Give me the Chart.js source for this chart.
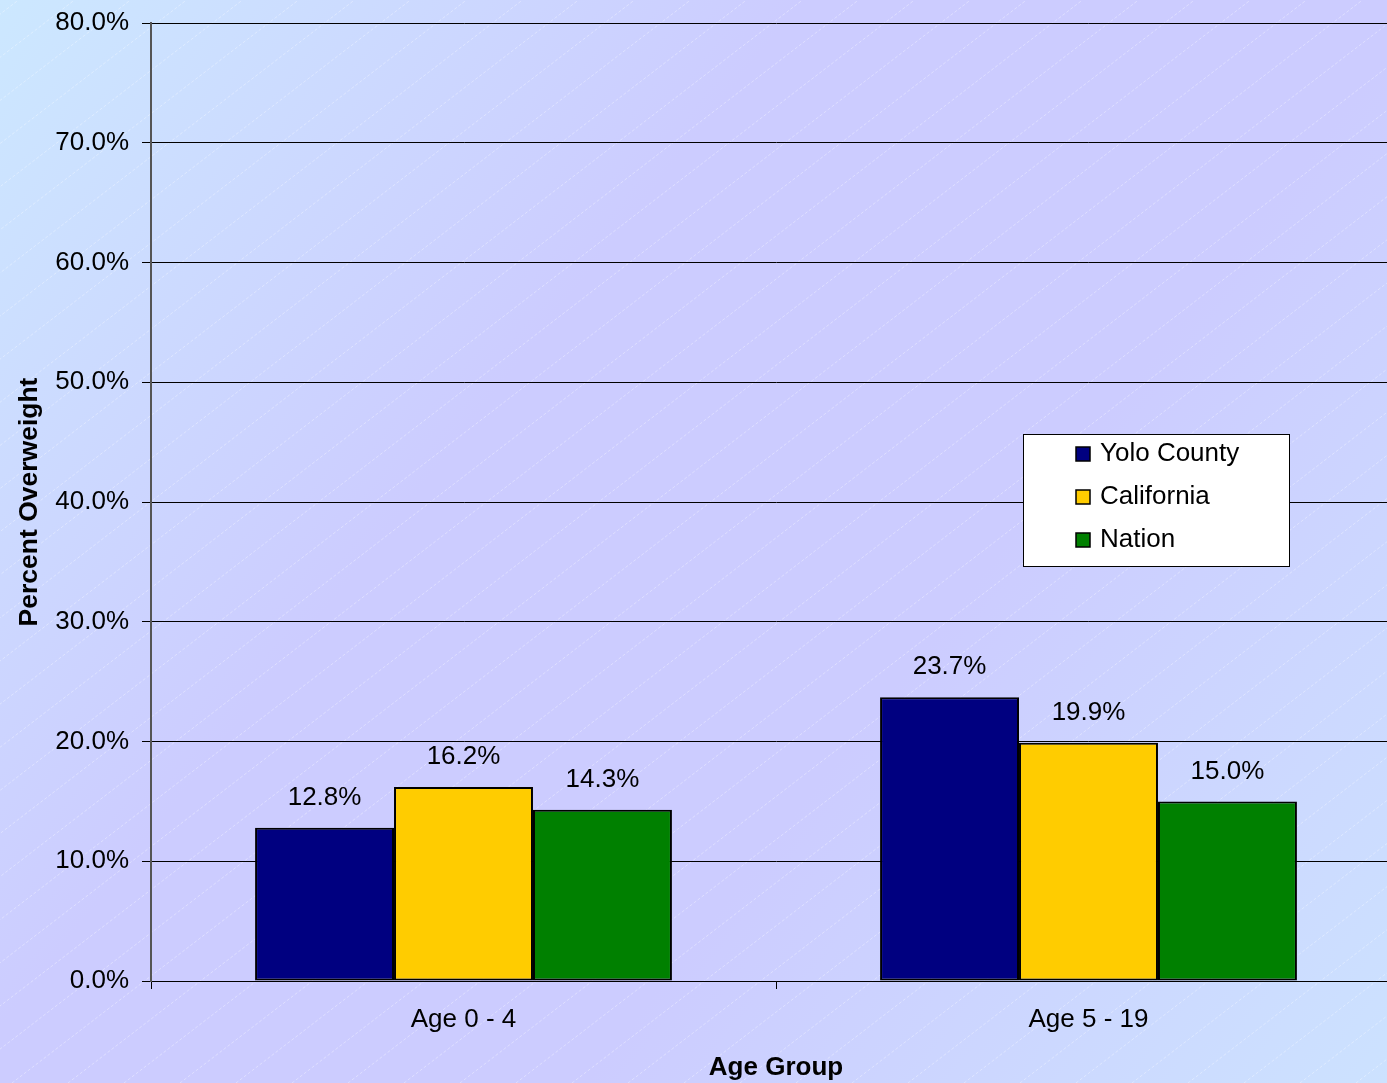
<!DOCTYPE html>
<html>
<head>
<meta charset="utf-8">
<title>Percent Overweight by Age Group</title>
<script src="https://cdn.jsdelivr.net/npm/chart.js@4/dist/chart.umd.min.js"></script>
<style>
  html, body { margin: 0; padding: 0; overflow: hidden; background: #ccccff; }
  #wrap { width: 1420px; height: 1083px; }
</style>
</head>
<body>
<div id="wrap"><canvas id="chart" width="1420" height="1083"></canvas></div>
<script>
// Age groups and prevalence of overweight (percent)
const categories = ['Age 0 - 4', 'Age 5 - 19'];
const seriesNames = ['Yolo County', 'California', 'Nation'];
const yoloCounty = [12.8, 23.7];
const california = [16.2, 19.9];
const nation = [14.3, 15.0];
const yTicks = [0, 10, 20, 30, 40, 50, 60, 70, 80];

const seriesColors = ['#000080', '#FFCC00', '#008000'];
const FONT = '"Liberation Sans", Arial, sans-serif';

// Diagonal blue / lavender backdrop with faint hatch lines
const backdrop = {
  id: 'backdrop',
  beforeDraw(chart) {
    const { ctx, width, height } = chart;
    ctx.save();
    const g = ctx.createLinearGradient(0, 0, 1387, 1083);
    g.addColorStop(0, '#cce8ff');
    g.addColorStop(0.36, '#ccccff');
    g.addColorStop(0.64, '#ccccff');
    g.addColorStop(1, '#cce2ff');
    ctx.fillStyle = g;
    ctx.fillRect(0, 0, width, height);
    ctx.strokeStyle = 'rgba(255,255,255,0.35)';
    ctx.lineWidth = 1;
    ctx.setLineDash([3, 2]);
    const slope = 0.77;
    const step = 56;
    for (let x0 = -1500; x0 < width + 200; x0 += step) {
      ctx.beginPath();
      ctx.moveTo(x0, height);
      ctx.lineTo(x0 + height / slope, 0);
      ctx.stroke();
    }
    ctx.restore();
  }
};

// Value labels centred above each bar
const valueLabels = {
  id: 'valueLabels',
  afterDatasetsDraw(chart) {
    const { ctx } = chart;
    ctx.save();
    ctx.font = '26px ' + FONT;
    ctx.fillStyle = '#000';
    ctx.textAlign = 'center';
    ctx.textBaseline = 'middle';
    chart.data.datasets.forEach((ds, i) => {
      chart.getDatasetMeta(i).data.forEach((bar, j) => {
        ctx.fillText(ds.data[j].toFixed(1) + '%', bar.x, bar.y - 30);
      });
    });
    ctx.restore();
  }
};

// Boxed legend inside the plot area
const boxLegend = {
  id: 'boxLegend',
  afterDraw(chart, args, opts) {
    const { ctx } = chart;
    ctx.save();
    ctx.fillStyle = '#fff';
    ctx.fillRect(opts.x, opts.y, opts.w, opts.h);
    ctx.strokeStyle = '#000';
    ctx.lineWidth = 1;
    ctx.strokeRect(opts.x + 0.5, opts.y + 0.5, opts.w, opts.h);
    ctx.font = '26px ' + FONT;
    ctx.textBaseline = 'middle';
    ctx.textAlign = 'left';
    chart.data.datasets.forEach((ds, i) => {
      const cy = opts.y + opts.firstRow + i * opts.rowGap;
      ctx.fillStyle = ds.backgroundColor;
      ctx.fillRect(opts.x + 53, cy - 7, 14, 14);
      ctx.strokeStyle = '#000';
      ctx.lineWidth = 1.5;
      ctx.strokeRect(opts.x + 53, cy - 7, 14, 14);
      ctx.fillStyle = '#000';
      ctx.fillText(ds.label, opts.x + 77, cy);
    });
    ctx.restore();
  }
};

const makeDataset = (label, data, color) => ({
  label,
  data,
  backgroundColor: color,
  borderColor: '#000',
  borderWidth: 2,
  borderSkipped: false,
  barPercentage: 1.0,
  categoryPercentage: 0.667
});

new Chart(document.getElementById('chart'), {
  type: 'bar',
  data: {
    labels: categories,
    datasets: [
      makeDataset(seriesNames[0], yoloCounty, seriesColors[0]),
      makeDataset(seriesNames[1], california, seriesColors[1]),
      makeDataset(seriesNames[2], nation, seriesColors[2])
    ]
  },
  options: {
    responsive: false,
    animation: false,
    devicePixelRatio: 1,
    layout: { padding: { top: 23, left: 0, right: 19, bottom: 0 } },
    plugins: {
      legend: { display: false },
      tooltip: { enabled: false },
      boxLegend: { x: 1023, y: 434, w: 266, h: 132, firstRow: 20, rowGap: 43 }
    },
    scales: {
      x: {
        grid: { drawOnChartArea: false, drawTicks: true, tickLength: 8, color: '#000', lineWidth: 1 },
        border: { color: '#000', width: 1 },
        ticks: { color: '#000', font: { family: FONT, size: 26 }, padding: 15 },
        title: {
          display: true, text: 'Age Group', color: '#000',
          font: { family: FONT, size: 26, weight: 'bold', lineHeight: 1.2 },
          padding: { top: 0, bottom: 0 }
        },
        afterFit(scale) {
          scale.height = 102;
          scale.paddingLeft = 0;
          scale.paddingRight = 0;
        }
      },
      y: {
        min: 0,
        max: 80,
        afterBuildTicks(scale) { scale.ticks = yTicks.map(v => ({ value: v })); },
        grid: { color: '#000', lineWidth: 1, tickLength: 9, drawTicks: true },
        border: { color: '#555', width: 2 },
        ticks: {
          color: '#000',
          font: { family: FONT, size: 26 },
          padding: 13,
          callback: v => v.toFixed(1) + '%'
        },
        title: {
          display: true, text: 'Percent Overweight', color: '#000',
          font: { family: FONT, size: 26.5, weight: 'bold', lineHeight: 1.2 },
          padding: { top: 14, bottom: 0 }
        },
        afterFit(scale) {
          scale.width = 151;
          scale.paddingTop = 0;
          scale.paddingBottom = 0;
        }
      }
    }
  },
  plugins: [backdrop, valueLabels, boxLegend]
});
</script>
</body>
</html>
